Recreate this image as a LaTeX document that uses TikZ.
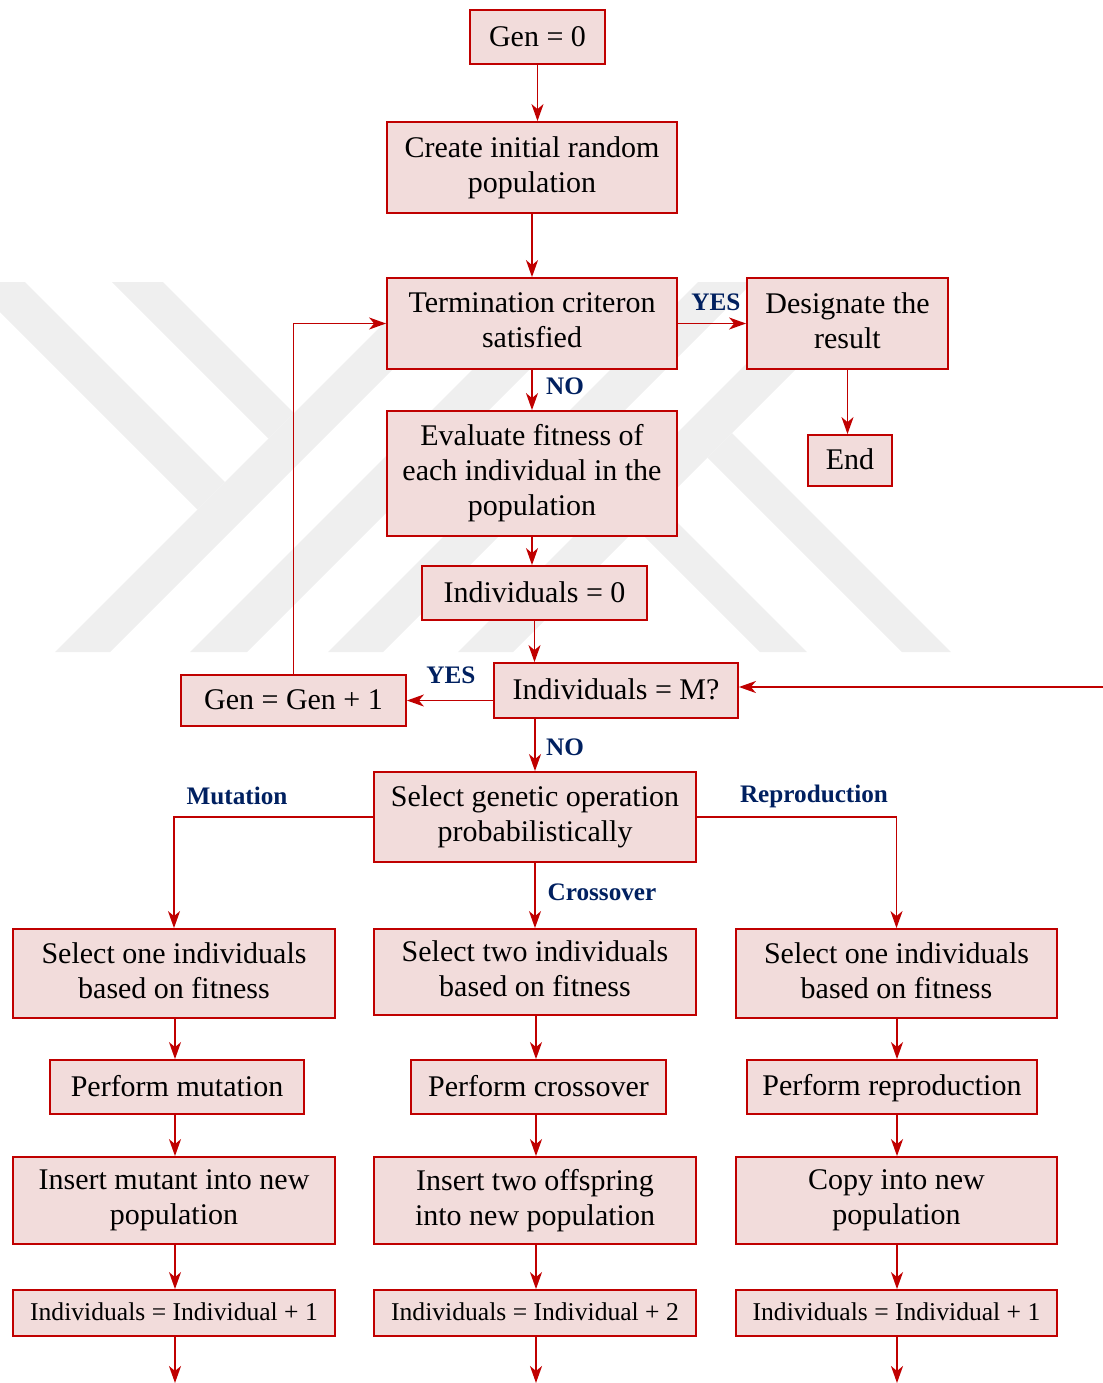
\documentclass[tikz,border=0pt]{standalone}
\usepackage{fontspec}
\setmainfont{Liberation Serif}
\usetikzlibrary{arrows.meta}
\definecolor{linered}{RGB}{192,0,0}
\definecolor{boxfill}{RGB}{242,220,219}
\definecolor{lblblue}{RGB}{0,32,96}
\definecolor{wmgray}{RGB}{239,239,239}
% struts that centre the letters (not the descenders) in a box
\newcommand\bigstrut{\rule[-3pt]{0pt}{15pt}}
\newcommand\lowstrut{\rule[-2.6pt]{0pt}{12.8pt}}

\begin{document}
\begin{tikzpicture}[x=0.5pt,y=-0.5pt,
  basebox/.style={draw=linered, fill=boxfill, line width=0.9pt, inner sep=0pt, align=center},
  box/.style={basebox, font=\fontsize{15}{17.5}\selectfont,
    execute at begin node={\bigstrut}, execute at end node={\bigstrut}},
  smallbox/.style={basebox, font=\fontsize{12.8}{15}\selectfont,
    execute at begin node={\lowstrut}, execute at end node={\lowstrut}},
  arr/.style={draw=linered, line width=0.9pt,
    -{Stealth[length=8.5pt,width=6pt,inset=2.5pt]}},
  lbl/.style={text=lblblue, font=\bfseries\fontsize{12.6}{14}\selectfont, inner sep=0pt},
  band/.style={fill=wmgray, draw=none}]

\useasboundingbox (0,0) rectangle (1103,1383);

% background emblem: diagonal bands
\fill[band] (55,652) -- (110,652) -- (480,282) -- (425,282) -- cycle;
\fill[band] (0,282) -- (25,282) -- (225,482) -- (197.5,509.5) -- (0,312) -- cycle;
\fill[band] (112,282) -- (163,282) -- (294,413) -- (268.5,438.5) -- cycle;
\fill[band] (190,652) -- (247,652) -- (617,282) -- (560,282) -- cycle;
\fill[band] (328,652) -- (383,652) -- (753,282) -- (698,282) -- cycle;
\fill[band] (458,652) -- (513,652) -- (883,282) -- (828,282) -- cycle;
\fill[band] (760,652) -- (807,652) -- (660,505) -- (636.5,528.5) -- cycle;
\fill[band] (902,652) -- (951,652) -- (732,433) -- (707.5,457.5) -- cycle;

% main loop
\node[box, minimum width=67.5pt, minimum height=27pt] (gen0) at (537.5,37) {Gen = 0};
\node[box, minimum width=145pt, minimum height=45.5pt] (create) at (532,167.5) {Create initial random\\population};
\node[box, minimum width=145pt, minimum height=45.5pt] (term) at (532,323.5) {Termination criteron\\satisfied};
\node[box, minimum width=100.5pt, minimum height=45.5pt] (desig) at (847.5,323.5) {Designate the\\result};
\node[box, minimum width=42pt, minimum height=25.5pt] (end) at (850,460.5) {End};
\node[box, minimum width=145pt, minimum height=62.5pt] (eval) at (532,473.5) {Evaluate fitness of\\each individual in the\\population};
\node[box, minimum width=112.5pt, minimum height=27pt] (ind0) at (534.5,593) {Individuals = 0};
\node[box, minimum width=122pt, minimum height=27.5pt] (indM) at (616,690.5) {Individuals = M?};
\node[box, minimum width=112.5pt, minimum height=25.5pt] (gen1) at (293.5,700.5) {Gen = Gen + 1};
\node[box, minimum width=161pt, minimum height=45pt] (select) at (535,817) {Select genetic operation\\probabilistically};

% operation columns
\node[box, minimum width=161pt, minimum height=44.5pt] (selL) at (174,973.5) {Select one individuals\\based on fitness};
\node[box, minimum width=161pt, minimum height=43pt] (selC) at (535,972) {Select two individuals\\based on fitness};
\node[box, minimum width=160.5pt, minimum height=44.5pt] (selR) at (896.5,973.5) {Select one individuals\\based on fitness};

\node[box, minimum width=127pt, minimum height=27pt] (perfL) at (177,1087) {Perform mutation};
\node[box, minimum width=127.5pt, minimum height=27pt] (perfC) at (538.5,1087) {Perform crossover};
\node[box, minimum width=145pt, minimum height=27pt] (perfR) at (892,1087) {Perform reproduction};

\node[box, minimum width=161pt, minimum height=43.5pt] (insL) at (174,1200.5) {Insert mutant into new\\population};
\node[box, minimum width=161pt, minimum height=43.5pt] (insC) at (535,1200.5) {Insert two offspring\\into new population};
\node[box, minimum width=160.5pt, minimum height=43.5pt] (insR) at (896.5,1200.5) {Copy into new\\population};

\node[smallbox, minimum width=161pt, minimum height=23pt] (cntL) at (174,1313) {Individuals = Individual + 1};
\node[smallbox, minimum width=161pt, minimum height=23pt] (cntC) at (535,1313) {Individuals = Individual + 2};
\node[smallbox, minimum width=160.5pt, minimum height=23pt] (cntR) at (896.5,1313) {Individuals = Individual + 1};

% free ends
\coordinate (inR) at (1103,687);
\coordinate (outL) at (175,1383);
\coordinate (outC) at (536,1383);
\coordinate (outR) at (897,1383);

% connectors
\draw[arr] (gen0.south) -- (gen0.south |- create.north);
\draw[arr] (create.south) -- (create.south |- term.north);
\draw[arr] (term.east) -- (desig.west);
\draw[arr] (desig.south) -- (desig.south |- end.north);
\draw[arr] (term.south) -- (eval.north);
\draw[arr] (eval.south) -- (eval.south |- ind0.north);
\draw[arr] (ind0.south) -- (ind0.south |- indM.north);
\draw[arr] (inR) -- (inR -| indM.east);
\draw[arr] (indM.west |- gen1.east) -- (gen1.east);
\draw[arr] (gen1.north) |- (term.west);
\draw[arr] (indM.south -| select.north) -- (select.north);
\draw[arr] (select.west) -| (selL.north);
\draw[arr] (select.south) -- (selC.north);
\draw[arr] (select.east) -| (selR.north);

\draw[arr] (outL |- selL.south) -- (outL |- perfL.north);
\draw[arr] (outL |- perfL.south) -- (outL |- insL.north);
\draw[arr] (outL |- insL.south) -- (outL |- cntL.north);
\draw[arr] (outL |- cntL.south) -- (outL);

\draw[arr] (outC |- selC.south) -- (outC |- perfC.north);
\draw[arr] (outC |- perfC.south) -- (outC |- insC.north);
\draw[arr] (outC |- insC.south) -- (outC |- cntC.north);
\draw[arr] (outC |- cntC.south) -- (outC);

\draw[arr] (outR |- selR.south) -- (outR |- perfR.north);
\draw[arr] (outR |- perfR.south) -- (outR |- insR.north);
\draw[arr] (outR |- insR.south) -- (outR |- cntR.north);
\draw[arr] (outR |- cntR.south) -- (outR);

% branch labels
\node[lbl] (yes1) at (716,302) {YES};
\node[lbl] (no1) at (565,386) {NO};
\node[lbl] (yes2) at (451,675) {YES};
\node[lbl] (no2) at (565,747) {NO};
\node[lbl] (mut) at (237,796) {Mutation};
\node[lbl] (rep) at (814,796) {Reproduction};
\node[lbl] (cro) at (602,892) {Crossover};
\end{tikzpicture}
\end{document}
